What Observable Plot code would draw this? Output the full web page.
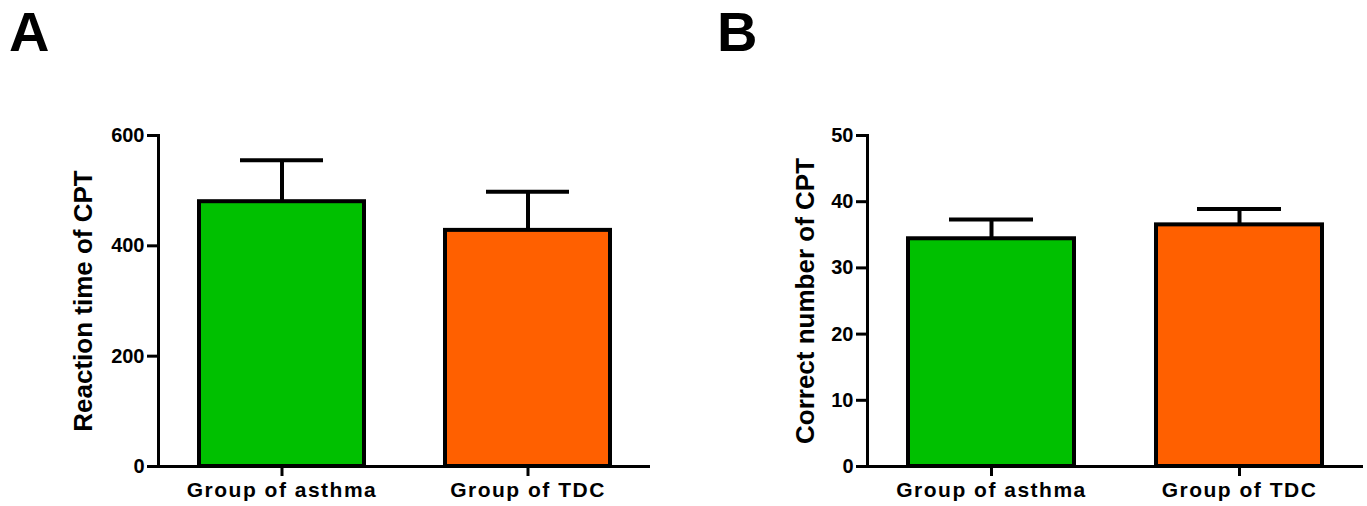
<!DOCTYPE html>
<html>
<head>
<meta charset="utf-8">
<script src="https://cdn.jsdelivr.net/npm/d3@7"></script>
<script src="https://cdn.jsdelivr.net/npm/@observablehq/plot@0.6"></script>
<style>
  html, body { margin: 0; padding: 0; background: #fff; }
  #wrap { position: relative; width: 1367px; height: 506px; overflow: hidden; font-family: "Liberation Sans", Arial, sans-serif; }
  .panel { position: absolute; top: 0; }
  .letter { position: absolute; font-weight: bold; font-size: 56px; line-height: 1; }
  g[aria-label="x-axis tick label"] text { letter-spacing: 1.5px; }
</style>
</head>
<body>
<div id="wrap">
  <div class="letter" style="left:9px; top:4px;">A</div>
  <div class="letter" style="left:717px; top:4px;">B</div>
  <div id="pA" class="panel" style="left:0px;"></div>
  <div id="pB" class="panel" style="left:683px;"></div>
</div>
<script>
const groups = ["Group of asthma", "Group of TDC"];
const colors = ["#00c000", "#ff6000"];

const reactionMean = [480, 428];
const reactionErr = [75, 70];
const reactionTicks = [0, 200, 400, 600];

const correctMean = [34.4, 36.5];
const correctErr = [2.9, 2.4];
const correctTicks = [0, 10, 20, 30, 40, 50];

function panel({means, errs, ticks, yMax, label, labelDx, width, marginLeft, marginRight}) {
  const data = groups.map((g, i) => ({group: g, mean: means[i], upper: means[i] + errs[i]}));
  return Plot.plot({
    width, height: 506,
    marginTop: 135, marginBottom: 40, marginLeft, marginRight,
    style: {fontFamily: "'Liberation Sans', Arial, sans-serif", fontWeight: "bold", fontSize: "20px", color: "#000", background: "transparent", overflow: "visible"},
    x: {domain: groups, paddingInner: 0.33, paddingOuter: 0.165, label: null},
    y: {domain: [0, yMax], label: null},
    color: {domain: groups, range: colors},
    marks: [
      Plot.ruleX(data, {x: "group", y1: "mean", y2: "upper", stroke: "#000", strokeWidth: 4}),
      Plot.tickY(data, {x: "group", y: "upper", stroke: "#000", strokeWidth: 4, insetLeft: 41, insetRight: 41}),
      Plot.barY(data, {x: "group", y: "mean", fill: "group", stroke: "#000", strokeWidth: 4}),
      Plot.frame({anchor: "left", stroke: "#000", strokeWidth: 3}),
      Plot.ruleY([0], {stroke: "#000", strokeWidth: 3}),
      Plot.axisY({ticks, tickSize: 11, tickPadding: 3, strokeWidth: 3, label: null, fontSize: 20}),
      Plot.axisX({tickSize: 10, tickPadding: 6, strokeWidth: 3, label: null, fontSize: 21}),
      Plot.text([label], {text: d => d, frameAnchor: "left", rotate: -90, dx: labelDx, fontSize: 26, textAnchor: "middle", lineAnchor: "middle"})
    ]
  });
}

document.getElementById("pA").appendChild(panel({
  means: reactionMean, errs: reactionErr, ticks: reactionTicks, yMax: 600,
  label: "Reaction time of CPT", labelDx: -75, width: 683, marginLeft: 158, marginRight: 33
}));
document.getElementById("pB").appendChild(panel({
  means: correctMean, errs: correctErr, ticks: correctTicks, yMax: 50,
  label: "Correct number of CPT", labelDx: -62, width: 684, marginLeft: 184, marginRight: 4
}));
</script>
</body>
</html>
